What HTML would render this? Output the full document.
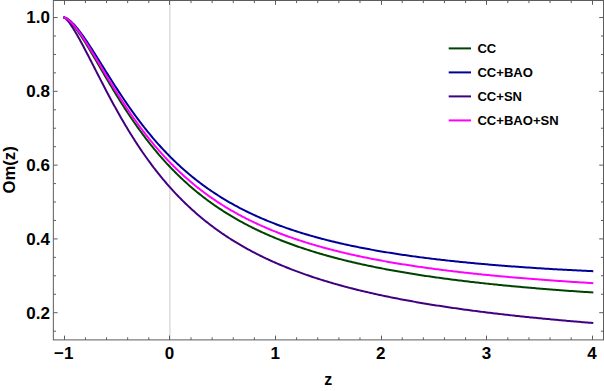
<!DOCTYPE html>
<html><head><meta charset="utf-8"><title>Om(z)</title><style>
html,body{margin:0;padding:0;background:#fff;}
svg{display:block;font-family:"Liberation Sans",sans-serif;font-weight:bold;}
.c path{fill:none;stroke-width:2;stroke-linejoin:round;}
.t text{fill:#000;}
</style></head><body>
<svg width="604" height="391" viewBox="0 0 604 391">
<rect width="604" height="391" fill="#fff"/>
<path d="M169.9,0.5V339.9" stroke="#c2c2c2" stroke-width="0.85" fill="none"/>
<g class="c">
<path d="M64.30,17.55 L64.51,17.58 L64.81,17.67 L65.16,17.81 L65.55,18.00 L65.97,18.24 L66.42,18.52 L66.88,18.85 L67.37,19.21 L67.88,19.63 L68.41,20.08 L68.95,20.57 L69.51,21.10 L70.08,21.67 L70.66,22.28 L71.26,22.93 L71.87,23.61 L72.49,24.33 L73.12,25.09 L73.77,25.87 L74.42,26.70 L75.08,27.55 L75.75,28.44 L76.43,29.36 L77.12,30.31 L77.82,31.29 L78.53,32.30 L79.25,33.34 L79.97,34.41 L80.70,35.50 L81.44,36.62 L82.19,37.76 L82.94,38.93 L83.70,40.12 L84.47,41.34 L85.24,42.58 L86.02,43.83 L86.81,45.11 L87.61,46.41 L88.41,47.73 L89.21,49.07 L90.03,50.42 L90.84,51.79 L91.67,53.18 L92.50,54.58 L93.34,56.00 L94.18,57.43 L95.02,58.87 L95.88,60.32 L96.73,61.79 L97.60,63.27 L98.47,64.75 L99.34,66.25 L100.22,67.76 L101.10,69.27 L101.99,70.79 L102.88,72.32 L103.78,73.85 L104.68,75.39 L105.59,76.94 L106.50,78.49 L107.42,80.04 L108.34,81.60 L109.27,83.16 L110.20,84.72 L111.13,86.28 L112.07,87.85 L113.01,89.41 L113.96,90.98 L114.91,92.54 L115.87,94.11 L116.83,95.67 L117.79,97.23 L118.76,98.79 L119.73,100.35 L120.71,101.91 L121.69,103.46 L122.67,105.01 L123.66,106.55 L124.65,108.09 L125.64,109.63 L126.64,111.16 L127.65,112.68 L128.65,114.21 L129.66,115.72 L130.67,117.23 L131.69,118.73 L132.71,120.23 L133.74,121.72 L134.76,123.20 L135.79,124.68 L136.83,126.15 L137.87,127.61 L138.91,129.06 L139.95,130.51 L141.00,131.95 L142.05,133.38 L143.11,134.80 L144.16,136.21 L145.22,137.62 L146.29,139.02 L147.36,140.40 L148.43,141.78 L149.50,143.15 L150.58,144.51 L151.66,145.87 L152.74,147.21 L153.83,148.54 L154.92,149.87 L156.01,151.18 L157.10,152.49 L158.20,153.78 L159.30,155.07 L160.41,156.35 L161.51,157.61 L162.62,158.87 L163.74,160.12 L164.85,161.36 L165.97,162.59 L167.09,163.81 L168.22,165.02 L169.35,166.22 L170.48,167.41 L171.61,168.59 L172.74,169.76 L173.88,170.92 L175.02,172.07 L176.17,173.22 L177.31,174.35 L178.46,175.47 L179.61,176.59 L180.77,177.69 L181.93,178.79 L183.09,179.87 L184.25,180.95 L185.41,182.02 L186.58,183.07 L187.75,184.12 L188.92,185.16 L190.10,186.19 L191.28,187.21 L192.46,188.22 L193.64,189.23 L194.82,190.22 L196.01,191.21 L197.20,192.18 L198.40,193.15 L199.59,194.11 L200.79,195.06 L201.99,196.00 L203.19,196.94 L204.40,197.86 L205.60,198.78 L206.81,199.68 L208.03,200.58 L209.24,201.48 L210.46,202.36 L211.68,203.23 L212.90,204.10 L214.12,204.96 L215.35,205.81 L216.58,206.65 L217.81,207.49 L219.04,208.32 L220.27,209.14 L221.51,209.95 L222.75,210.75 L223.99,211.55 L225.24,212.34 L226.48,213.12 L227.73,213.90 L228.98,214.67 L230.24,215.43 L231.49,216.18 L232.75,216.93 L234.01,217.67 L235.27,218.40 L236.53,219.13 L237.80,219.85 L239.07,220.56 L240.34,221.27 L241.61,221.97 L242.89,222.66 L244.16,223.35 L245.44,224.03 L246.72,224.70 L248.01,225.37 L249.29,226.03 L250.58,226.69 L251.87,227.34 L253.16,227.98 L254.45,228.62 L255.75,229.25 L257.04,229.88 L258.34,230.50 L259.64,231.11 L260.95,231.72 L262.25,232.32 L263.56,232.92 L264.87,233.51 L266.18,234.10 L267.49,234.68 L268.81,235.26 L270.13,235.83 L271.45,236.39 L272.77,236.95 L274.09,237.51 L275.41,238.06 L276.74,238.60 L278.07,239.14 L279.40,239.68 L280.73,240.21 L282.07,240.73 L283.40,241.25 L284.74,241.77 L286.08,242.28 L287.42,242.79 L288.77,243.29 L290.11,243.79 L291.46,244.28 L292.81,244.77 L294.16,245.25 L295.51,245.73 L296.87,246.21 L298.23,246.68 L299.58,247.15 L300.94,247.61 L302.31,248.07 L303.67,248.52 L305.04,248.97 L306.40,249.42 L307.77,249.86 L309.14,250.30 L310.52,250.74 L311.89,251.17 L313.27,251.60 L314.65,252.02 L316.03,252.44 L317.41,252.86 L318.79,253.27 L320.18,253.68 L321.56,254.08 L322.95,254.48 L324.34,254.88 L325.73,255.28 L327.13,255.67 L328.52,256.06 L329.92,256.44 L331.32,256.82 L332.72,257.20 L334.12,257.58 L335.53,257.95 L336.93,258.32 L338.34,258.68 L339.75,259.05 L341.16,259.40 L342.57,259.76 L343.98,260.11 L345.40,260.46 L346.82,260.81 L348.24,261.16 L349.66,261.50 L351.08,261.84 L352.50,262.17 L353.93,262.50 L355.36,262.83 L356.78,263.16 L358.21,263.49 L359.65,263.81 L361.08,264.13 L362.51,264.44 L363.95,264.76 L365.39,265.07 L366.83,265.38 L368.27,265.69 L369.71,265.99 L371.16,266.29 L372.60,266.59 L374.05,266.89 L375.50,267.18 L376.95,267.47 L378.40,267.76 L379.86,268.05 L381.31,268.33 L382.77,268.61 L384.23,268.89 L385.69,269.17 L387.15,269.45 L388.61,269.72 L390.08,269.99 L391.55,270.26 L393.01,270.53 L394.48,270.79 L395.95,271.05 L397.42,271.31 L398.90,271.57 L400.37,271.83 L401.85,272.08 L403.33,272.34 L404.81,272.59 L406.29,272.84 L407.77,273.08 L409.26,273.33 L410.74,273.57 L412.23,273.81 L413.72,274.05 L415.21,274.29 L416.70,274.52 L418.19,274.75 L419.69,274.99 L421.18,275.22 L422.68,275.44 L424.18,275.67 L425.68,275.89 L427.18,276.12 L428.68,276.34 L430.19,276.56 L431.69,276.77 L433.20,276.99 L434.71,277.21 L436.22,277.42 L437.73,277.63 L439.25,277.84 L440.76,278.05 L442.28,278.25 L443.79,278.46 L445.31,278.66 L446.83,278.86 L448.35,279.06 L449.88,279.26 L451.40,279.46 L452.93,279.66 L454.45,279.85 L455.98,280.04 L457.51,280.24 L459.04,280.43 L460.58,280.61 L462.11,280.80 L463.64,280.99 L465.18,281.17 L466.72,281.36 L468.26,281.54 L469.80,281.72 L471.34,281.90 L472.88,282.08 L474.43,282.25 L475.98,282.43 L477.52,282.60 L479.07,282.78 L480.62,282.95 L482.17,283.12 L483.73,283.29 L485.28,283.46 L486.84,283.62 L488.39,283.79 L489.95,283.95 L491.51,284.12 L493.07,284.28 L494.63,284.44 L496.20,284.60 L497.76,284.76 L499.33,284.92 L500.89,285.07 L502.46,285.23 L504.03,285.38 L505.60,285.54 L507.17,285.69 L508.75,285.84 L510.32,285.99 L511.90,286.14 L513.48,286.29 L515.06,286.43 L516.64,286.58 L518.22,286.73 L519.80,286.87 L521.38,287.01 L522.97,287.15 L524.56,287.30 L526.14,287.44 L527.73,287.57 L529.32,287.71 L530.91,287.85 L532.51,287.99 L534.10,288.12 L535.70,288.26 L537.29,288.39 L538.89,288.52 L540.49,288.65 L542.09,288.79 L543.69,288.92 L545.29,289.05 L546.90,289.17 L548.50,289.30 L550.11,289.43 L551.72,289.55 L553.33,289.68 L554.94,289.80 L556.55,289.93 L558.16,290.05 L559.77,290.17 L561.39,290.29 L563.00,290.41 L564.62,290.53 L566.24,290.65 L567.86,290.77 L569.48,290.88 L571.10,291.00 L572.73,291.11 L574.35,291.23 L575.98,291.34 L577.60,291.46 L579.23,291.57 L580.86,291.68 L582.49,291.79 L584.12,291.90 L585.76,292.01 L587.39,292.12 L589.03,292.23 L590.66,292.34 L592.30,292.44" stroke="#004200" stroke-linecap="square"/>
<path d="M64.30,17.55 L64.51,17.57 L64.81,17.62 L65.16,17.72 L65.55,17.85 L65.97,18.02 L66.42,18.23 L66.88,18.48 L67.37,18.76 L67.88,19.08 L68.41,19.44 L68.95,19.83 L69.51,20.26 L70.08,20.73 L70.66,21.24 L71.26,21.77 L71.87,22.35 L72.49,22.96 L73.12,23.60 L73.77,24.27 L74.42,24.98 L75.08,25.72 L75.75,26.49 L76.43,27.30 L77.12,28.13 L77.82,28.99 L78.53,29.88 L79.25,30.80 L79.97,31.75 L80.70,32.73 L81.44,33.73 L82.19,34.76 L82.94,35.81 L83.70,36.88 L84.47,37.98 L85.24,39.11 L86.02,40.25 L86.81,41.42 L87.61,42.60 L88.41,43.81 L89.21,45.04 L90.03,46.28 L90.84,47.54 L91.67,48.82 L92.50,50.11 L93.34,51.42 L94.18,52.74 L95.02,54.08 L95.88,55.43 L96.73,56.80 L97.60,58.17 L98.47,59.56 L99.34,60.95 L100.22,62.36 L101.10,63.78 L101.99,65.20 L102.88,66.63 L103.78,68.07 L104.68,69.52 L105.59,70.97 L106.50,72.43 L107.42,73.89 L108.34,75.35 L109.27,76.82 L110.20,78.30 L111.13,79.77 L112.07,81.25 L113.01,82.73 L113.96,84.21 L114.91,85.69 L115.87,87.17 L116.83,88.65 L117.79,90.13 L118.76,91.61 L119.73,93.09 L120.71,94.57 L121.69,96.04 L122.67,97.51 L123.66,98.98 L124.65,100.44 L125.64,101.91 L126.64,103.36 L127.65,104.82 L128.65,106.26 L129.66,107.71 L130.67,109.15 L131.69,110.58 L132.71,112.00 L133.74,113.43 L134.76,114.84 L135.79,116.25 L136.83,117.65 L137.87,119.05 L138.91,120.43 L139.95,121.81 L141.00,123.19 L142.05,124.55 L143.11,125.91 L144.16,127.26 L145.22,128.61 L146.29,129.94 L147.36,131.27 L148.43,132.58 L149.50,133.89 L150.58,135.19 L151.66,136.49 L152.74,137.77 L153.83,139.05 L154.92,140.31 L156.01,141.57 L157.10,142.82 L158.20,144.06 L159.30,145.29 L160.41,146.51 L161.51,147.72 L162.62,148.92 L163.74,150.11 L164.85,151.30 L165.97,152.47 L167.09,153.64 L168.22,154.80 L169.35,155.94 L170.48,157.08 L171.61,158.21 L172.74,159.33 L173.88,160.44 L175.02,161.54 L176.17,162.63 L177.31,163.71 L178.46,164.78 L179.61,165.85 L180.77,166.90 L181.93,167.95 L183.09,168.98 L184.25,170.01 L185.41,171.03 L186.58,172.04 L187.75,173.04 L188.92,174.03 L190.10,175.01 L191.28,175.98 L192.46,176.95 L193.64,177.90 L194.82,178.85 L196.01,179.79 L197.20,180.71 L198.40,181.64 L199.59,182.55 L200.79,183.45 L201.99,184.35 L203.19,185.23 L204.40,186.11 L205.60,186.98 L206.81,187.85 L208.03,188.70 L209.24,189.55 L210.46,190.38 L211.68,191.21 L212.90,192.04 L214.12,192.85 L215.35,193.66 L216.58,194.46 L217.81,195.25 L219.04,196.03 L220.27,196.81 L221.51,197.58 L222.75,198.34 L223.99,199.09 L225.24,199.84 L226.48,200.58 L227.73,201.31 L228.98,202.04 L230.24,202.76 L231.49,203.47 L232.75,204.17 L234.01,204.87 L235.27,205.56 L236.53,206.24 L237.80,206.92 L239.07,207.59 L240.34,208.26 L241.61,208.91 L242.89,209.57 L244.16,210.21 L245.44,210.85 L246.72,211.48 L248.01,212.11 L249.29,212.73 L250.58,213.35 L251.87,213.95 L253.16,214.56 L254.45,215.15 L255.75,215.74 L257.04,216.33 L258.34,216.91 L259.64,217.48 L260.95,218.05 L262.25,218.61 L263.56,219.17 L264.87,219.72 L266.18,220.27 L267.49,220.81 L268.81,221.35 L270.13,221.88 L271.45,222.40 L272.77,222.92 L274.09,223.44 L275.41,223.95 L276.74,224.45 L278.07,224.95 L279.40,225.45 L280.73,225.94 L282.07,226.43 L283.40,226.91 L284.74,227.39 L286.08,227.86 L287.42,228.33 L288.77,228.79 L290.11,229.25 L291.46,229.70 L292.81,230.15 L294.16,230.60 L295.51,231.04 L296.87,231.48 L298.23,231.91 L299.58,232.34 L300.94,232.76 L302.31,233.18 L303.67,233.60 L305.04,234.01 L306.40,234.42 L307.77,234.83 L309.14,235.23 L310.52,235.63 L311.89,236.02 L313.27,236.41 L314.65,236.80 L316.03,237.18 L317.41,237.56 L318.79,237.93 L320.18,238.30 L321.56,238.67 L322.95,239.04 L324.34,239.40 L325.73,239.76 L327.13,240.11 L328.52,240.46 L329.92,240.81 L331.32,241.16 L332.72,241.50 L334.12,241.83 L335.53,242.17 L336.93,242.50 L338.34,242.83 L339.75,243.16 L341.16,243.48 L342.57,243.80 L343.98,244.12 L345.40,244.43 L346.82,244.74 L348.24,245.05 L349.66,245.36 L351.08,245.66 L352.50,245.96 L353.93,246.25 L355.36,246.55 L356.78,246.84 L358.21,247.13 L359.65,247.42 L361.08,247.70 L362.51,247.98 L363.95,248.26 L365.39,248.53 L366.83,248.81 L368.27,249.08 L369.71,249.35 L371.16,249.61 L372.60,249.88 L374.05,250.14 L375.50,250.40 L376.95,250.65 L378.40,250.91 L379.86,251.16 L381.31,251.41 L382.77,251.66 L384.23,251.90 L385.69,252.14 L387.15,252.38 L388.61,252.62 L390.08,252.86 L391.55,253.09 L393.01,253.33 L394.48,253.56 L395.95,253.78 L397.42,254.01 L398.90,254.23 L400.37,254.46 L401.85,254.68 L403.33,254.89 L404.81,255.11 L406.29,255.32 L407.77,255.54 L409.26,255.75 L410.74,255.96 L412.23,256.16 L413.72,256.37 L415.21,256.57 L416.70,256.77 L418.19,256.97 L419.69,257.17 L421.18,257.37 L422.68,257.56 L424.18,257.75 L425.68,257.94 L427.18,258.13 L428.68,258.32 L430.19,258.51 L431.69,258.69 L433.20,258.87 L434.71,259.06 L436.22,259.24 L437.73,259.41 L439.25,259.59 L440.76,259.76 L442.28,259.94 L443.79,260.11 L445.31,260.28 L446.83,260.45 L448.35,260.62 L449.88,260.78 L451.40,260.95 L452.93,261.11 L454.45,261.27 L455.98,261.43 L457.51,261.59 L459.04,261.75 L460.58,261.91 L462.11,262.06 L463.64,262.22 L465.18,262.37 L466.72,262.52 L468.26,262.67 L469.80,262.82 L471.34,262.96 L472.88,263.11 L474.43,263.25 L475.98,263.40 L477.52,263.54 L479.07,263.68 L480.62,263.82 L482.17,263.96 L483.73,264.10 L485.28,264.23 L486.84,264.37 L488.39,264.50 L489.95,264.64 L491.51,264.77 L493.07,264.90 L494.63,265.03 L496.20,265.16 L497.76,265.28 L499.33,265.41 L500.89,265.53 L502.46,265.66 L504.03,265.78 L505.60,265.90 L507.17,266.03 L508.75,266.15 L510.32,266.26 L511.90,266.38 L513.48,266.50 L515.06,266.62 L516.64,266.73 L518.22,266.84 L519.80,266.96 L521.38,267.07 L522.97,267.18 L524.56,267.29 L526.14,267.40 L527.73,267.51 L529.32,267.62 L530.91,267.72 L532.51,267.83 L534.10,267.93 L535.70,268.04 L537.29,268.14 L538.89,268.24 L540.49,268.35 L542.09,268.45 L543.69,268.55 L545.29,268.64 L546.90,268.74 L548.50,268.84 L550.11,268.94 L551.72,269.03 L553.33,269.13 L554.94,269.22 L556.55,269.31 L558.16,269.41 L559.77,269.50 L561.39,269.59 L563.00,269.68 L564.62,269.77 L566.24,269.86 L567.86,269.95 L569.48,270.03 L571.10,270.12 L572.73,270.21 L574.35,270.29 L575.98,270.37 L577.60,270.46 L579.23,270.54 L580.86,270.62 L582.49,270.71 L584.12,270.79 L585.76,270.87 L587.39,270.95 L589.03,271.03 L590.66,271.10 L592.30,271.18" stroke="#000099" stroke-linecap="square"/>
<path d="M64.30,17.55 L64.51,17.63 L64.81,17.81 L65.16,18.06 L65.55,18.38 L65.97,18.77 L66.42,19.21 L66.88,19.72 L67.37,20.27 L67.88,20.87 L68.41,21.53 L68.95,22.23 L69.51,22.97 L70.08,23.76 L70.66,24.59 L71.26,25.47 L71.87,26.38 L72.49,27.33 L73.12,28.33 L73.77,29.35 L74.42,30.42 L75.08,31.51 L75.75,32.64 L76.43,33.81 L77.12,35.00 L77.82,36.23 L78.53,37.48 L79.25,38.76 L79.97,40.07 L80.70,41.41 L81.44,42.77 L82.19,44.16 L82.94,45.57 L83.70,47.01 L84.47,48.46 L85.24,49.94 L86.02,51.43 L86.81,52.95 L87.61,54.48 L88.41,56.04 L89.21,57.60 L90.03,59.19 L90.84,60.79 L91.67,62.40 L92.50,64.03 L93.34,65.66 L94.18,67.31 L95.02,68.98 L95.88,70.65 L96.73,72.33 L97.60,74.02 L98.47,75.71 L99.34,77.42 L100.22,79.13 L101.10,80.85 L101.99,82.57 L102.88,84.29 L103.78,86.02 L104.68,87.76 L105.59,89.49 L106.50,91.23 L107.42,92.97 L108.34,94.71 L109.27,96.46 L110.20,98.20 L111.13,99.94 L112.07,101.68 L113.01,103.41 L113.96,105.15 L114.91,106.88 L115.87,108.61 L116.83,110.34 L117.79,112.06 L118.76,113.78 L119.73,115.50 L120.71,117.21 L121.69,118.91 L122.67,120.61 L123.66,122.30 L124.65,123.99 L125.64,125.66 L126.64,127.34 L127.65,129.00 L128.65,130.66 L129.66,132.31 L130.67,133.95 L131.69,135.59 L132.71,137.21 L133.74,138.83 L134.76,140.44 L135.79,142.04 L136.83,143.63 L137.87,145.21 L138.91,146.79 L139.95,148.35 L141.00,149.90 L142.05,151.44 L143.11,152.98 L144.16,154.50 L145.22,156.01 L146.29,157.52 L147.36,159.01 L148.43,160.49 L149.50,161.96 L150.58,163.43 L151.66,164.88 L152.74,166.32 L153.83,167.75 L154.92,169.16 L156.01,170.57 L157.10,171.97 L158.20,173.36 L159.30,174.73 L160.41,176.10 L161.51,177.45 L162.62,178.79 L163.74,180.13 L164.85,181.45 L165.97,182.76 L167.09,184.06 L168.22,185.35 L169.35,186.62 L170.48,187.89 L171.61,189.15 L172.74,190.40 L173.88,191.63 L175.02,192.86 L176.17,194.07 L177.31,195.28 L178.46,196.47 L179.61,197.65 L180.77,198.82 L181.93,199.99 L183.09,201.14 L184.25,202.28 L185.41,203.41 L186.58,204.53 L187.75,205.65 L188.92,206.75 L190.10,207.84 L191.28,208.92 L192.46,209.99 L193.64,211.06 L194.82,212.11 L196.01,213.15 L197.20,214.19 L198.40,215.21 L199.59,216.23 L200.79,217.23 L201.99,218.23 L203.19,219.22 L204.40,220.19 L205.60,221.16 L206.81,222.12 L208.03,223.07 L209.24,224.02 L210.46,224.95 L211.68,225.88 L212.90,226.79 L214.12,227.70 L215.35,228.60 L216.58,229.49 L217.81,230.38 L219.04,231.25 L220.27,232.12 L221.51,232.98 L222.75,233.83 L223.99,234.67 L225.24,235.51 L226.48,236.33 L227.73,237.15 L228.98,237.97 L230.24,238.77 L231.49,239.57 L232.75,240.36 L234.01,241.14 L235.27,241.92 L236.53,242.68 L237.80,243.44 L239.07,244.20 L240.34,244.95 L241.61,245.69 L242.89,246.42 L244.16,247.15 L245.44,247.87 L246.72,248.58 L248.01,249.29 L249.29,249.99 L250.58,250.68 L251.87,251.37 L253.16,252.05 L254.45,252.73 L255.75,253.39 L257.04,254.06 L258.34,254.71 L259.64,255.37 L260.95,256.01 L262.25,256.65 L263.56,257.28 L264.87,257.91 L266.18,258.53 L267.49,259.15 L268.81,259.76 L270.13,260.37 L271.45,260.97 L272.77,261.56 L274.09,262.15 L275.41,262.74 L276.74,263.31 L278.07,263.89 L279.40,264.46 L280.73,265.02 L282.07,265.58 L283.40,266.13 L284.74,266.68 L286.08,267.23 L287.42,267.77 L288.77,268.30 L290.11,268.83 L291.46,269.36 L292.81,269.88 L294.16,270.40 L295.51,270.91 L296.87,271.42 L298.23,271.92 L299.58,272.42 L300.94,272.91 L302.31,273.40 L303.67,273.89 L305.04,274.37 L306.40,274.85 L307.77,275.32 L309.14,275.79 L310.52,276.26 L311.89,276.72 L313.27,277.18 L314.65,277.63 L316.03,278.08 L317.41,278.53 L318.79,278.97 L320.18,279.41 L321.56,279.85 L322.95,280.28 L324.34,280.71 L325.73,281.13 L327.13,281.55 L328.52,281.97 L329.92,282.39 L331.32,282.80 L332.72,283.20 L334.12,283.61 L335.53,284.01 L336.93,284.41 L338.34,284.80 L339.75,285.19 L341.16,285.58 L342.57,285.97 L343.98,286.35 L345.40,286.73 L346.82,287.11 L348.24,287.48 L349.66,287.85 L351.08,288.22 L352.50,288.58 L353.93,288.94 L355.36,289.30 L356.78,289.66 L358.21,290.01 L359.65,290.36 L361.08,290.71 L362.51,291.05 L363.95,291.39 L365.39,291.73 L366.83,292.07 L368.27,292.40 L369.71,292.74 L371.16,293.07 L372.60,293.39 L374.05,293.72 L375.50,294.04 L376.95,294.36 L378.40,294.67 L379.86,294.99 L381.31,295.30 L382.77,295.61 L384.23,295.92 L385.69,296.22 L387.15,296.53 L388.61,296.83 L390.08,297.13 L391.55,297.42 L393.01,297.72 L394.48,298.01 L395.95,298.30 L397.42,298.59 L398.90,298.87 L400.37,299.15 L401.85,299.44 L403.33,299.72 L404.81,299.99 L406.29,300.27 L407.77,300.54 L409.26,300.81 L410.74,301.08 L412.23,301.35 L413.72,301.62 L415.21,301.88 L416.70,302.14 L418.19,302.40 L419.69,302.66 L421.18,302.92 L422.68,303.17 L424.18,303.42 L425.68,303.68 L427.18,303.93 L428.68,304.17 L430.19,304.42 L431.69,304.66 L433.20,304.91 L434.71,305.15 L436.22,305.39 L437.73,305.62 L439.25,305.86 L440.76,306.09 L442.28,306.33 L443.79,306.56 L445.31,306.79 L446.83,307.02 L448.35,307.24 L449.88,307.47 L451.40,307.69 L452.93,307.91 L454.45,308.13 L455.98,308.35 L457.51,308.57 L459.04,308.79 L460.58,309.00 L462.11,309.22 L463.64,309.43 L465.18,309.64 L466.72,309.85 L468.26,310.06 L469.80,310.26 L471.34,310.47 L472.88,310.67 L474.43,310.87 L475.98,311.08 L477.52,311.28 L479.07,311.47 L480.62,311.67 L482.17,311.87 L483.73,312.06 L485.28,312.26 L486.84,312.45 L488.39,312.64 L489.95,312.83 L491.51,313.02 L493.07,313.21 L494.63,313.40 L496.20,313.58 L497.76,313.77 L499.33,313.95 L500.89,314.13 L502.46,314.31 L504.03,314.49 L505.60,314.67 L507.17,314.85 L508.75,315.02 L510.32,315.20 L511.90,315.37 L513.48,315.55 L515.06,315.72 L516.64,315.89 L518.22,316.06 L519.80,316.23 L521.38,316.40 L522.97,316.57 L524.56,316.73 L526.14,316.90 L527.73,317.06 L529.32,317.23 L530.91,317.39 L532.51,317.55 L534.10,317.71 L535.70,317.87 L537.29,318.03 L538.89,318.19 L540.49,318.34 L542.09,318.50 L543.69,318.65 L545.29,318.81 L546.90,318.96 L548.50,319.11 L550.11,319.27 L551.72,319.42 L553.33,319.57 L554.94,319.72 L556.55,319.86 L558.16,320.01 L559.77,320.16 L561.39,320.30 L563.00,320.45 L564.62,320.59 L566.24,320.74 L567.86,320.88 L569.48,321.02 L571.10,321.16 L572.73,321.30 L574.35,321.44 L575.98,321.58 L577.60,321.72 L579.23,321.85 L580.86,321.99 L582.49,322.13 L584.12,322.26 L585.76,322.39 L587.39,322.53 L589.03,322.66 L590.66,322.79 L592.30,322.92" stroke="#400080" stroke-linecap="square"/>
<path d="M64.30,17.55 L64.51,17.58 L64.81,17.65 L65.16,17.76 L65.55,17.92 L65.97,18.13 L66.42,18.37 L66.88,18.66 L67.37,18.99 L67.88,19.36 L68.41,19.77 L68.95,20.21 L69.51,20.70 L70.08,21.22 L70.66,21.78 L71.26,22.38 L71.87,23.02 L72.49,23.69 L73.12,24.39 L73.77,25.13 L74.42,25.91 L75.08,26.71 L75.75,27.55 L76.43,28.42 L77.12,29.32 L77.82,30.25 L78.53,31.21 L79.25,32.20 L79.97,33.22 L80.70,34.26 L81.44,35.34 L82.19,36.43 L82.94,37.55 L83.70,38.70 L84.47,39.87 L85.24,41.06 L86.02,42.27 L86.81,43.51 L87.61,44.76 L88.41,46.03 L89.21,47.33 L90.03,48.64 L90.84,49.96 L91.67,51.31 L92.50,52.67 L93.34,54.04 L94.18,55.43 L95.02,56.83 L95.88,58.24 L96.73,59.67 L97.60,61.11 L98.47,62.55 L99.34,64.01 L100.22,65.48 L101.10,66.95 L101.99,68.44 L102.88,69.93 L103.78,71.42 L104.68,72.93 L105.59,74.43 L106.50,75.95 L107.42,77.46 L108.34,78.99 L109.27,80.51 L110.20,82.04 L111.13,83.56 L112.07,85.09 L113.01,86.62 L113.96,88.16 L114.91,89.69 L115.87,91.22 L116.83,92.75 L117.79,94.28 L118.76,95.80 L119.73,97.33 L120.71,98.85 L121.69,100.37 L122.67,101.89 L123.66,103.40 L124.65,104.91 L125.64,106.41 L126.64,107.91 L127.65,109.41 L128.65,110.90 L129.66,112.38 L130.67,113.86 L131.69,115.33 L132.71,116.80 L133.74,118.26 L134.76,119.71 L135.79,121.16 L136.83,122.60 L137.87,124.03 L138.91,125.45 L139.95,126.87 L141.00,128.28 L142.05,129.68 L143.11,131.07 L144.16,132.46 L145.22,133.84 L146.29,135.20 L147.36,136.56 L148.43,137.91 L149.50,139.26 L150.58,140.59 L151.66,141.91 L152.74,143.23 L153.83,144.53 L154.92,145.83 L156.01,147.12 L157.10,148.40 L158.20,149.66 L159.30,150.92 L160.41,152.17 L161.51,153.41 L162.62,154.64 L163.74,155.87 L164.85,157.08 L165.97,158.28 L167.09,159.47 L168.22,160.66 L169.35,161.83 L170.48,162.99 L171.61,164.15 L172.74,165.29 L173.88,166.43 L175.02,167.55 L176.17,168.67 L177.31,169.78 L178.46,170.88 L179.61,171.96 L180.77,173.04 L181.93,174.11 L183.09,175.17 L184.25,176.22 L185.41,177.26 L186.58,178.30 L187.75,179.32 L188.92,180.33 L190.10,181.34 L191.28,182.34 L192.46,183.32 L193.64,184.30 L194.82,185.27 L196.01,186.23 L197.20,187.18 L198.40,188.13 L199.59,189.06 L200.79,189.99 L201.99,190.90 L203.19,191.81 L204.40,192.71 L205.60,193.60 L206.81,194.49 L208.03,195.36 L209.24,196.23 L210.46,197.09 L211.68,197.94 L212.90,198.78 L214.12,199.62 L215.35,200.45 L216.58,201.27 L217.81,202.08 L219.04,202.88 L220.27,203.68 L221.51,204.47 L222.75,205.25 L223.99,206.02 L225.24,206.79 L226.48,207.55 L227.73,208.30 L228.98,209.05 L230.24,209.79 L231.49,210.52 L232.75,211.24 L234.01,211.96 L235.27,212.67 L236.53,213.38 L237.80,214.07 L239.07,214.76 L240.34,215.45 L241.61,216.13 L242.89,216.80 L244.16,217.46 L245.44,218.12 L246.72,218.77 L248.01,219.42 L249.29,220.06 L250.58,220.69 L251.87,221.32 L253.16,221.94 L254.45,222.56 L255.75,223.17 L257.04,223.77 L258.34,224.37 L259.64,224.96 L260.95,225.55 L262.25,226.13 L263.56,226.71 L264.87,227.28 L266.18,227.85 L267.49,228.41 L268.81,228.96 L270.13,229.51 L271.45,230.06 L272.77,230.60 L274.09,231.13 L275.41,231.66 L276.74,232.19 L278.07,232.71 L279.40,233.22 L280.73,233.73 L282.07,234.24 L283.40,234.74 L284.74,235.23 L286.08,235.72 L287.42,236.21 L288.77,236.69 L290.11,237.17 L291.46,237.65 L292.81,238.11 L294.16,238.58 L295.51,239.04 L296.87,239.50 L298.23,239.95 L299.58,240.40 L300.94,240.84 L302.31,241.28 L303.67,241.72 L305.04,242.15 L306.40,242.58 L307.77,243.00 L309.14,243.42 L310.52,243.84 L311.89,244.25 L313.27,244.66 L314.65,245.06 L316.03,245.47 L317.41,245.86 L318.79,246.26 L320.18,246.65 L321.56,247.04 L322.95,247.42 L324.34,247.80 L325.73,248.18 L327.13,248.55 L328.52,248.92 L329.92,249.29 L331.32,249.65 L332.72,250.02 L334.12,250.37 L335.53,250.73 L336.93,251.08 L338.34,251.43 L339.75,251.77 L341.16,252.11 L342.57,252.45 L343.98,252.79 L345.40,253.12 L346.82,253.45 L348.24,253.78 L349.66,254.11 L351.08,254.43 L352.50,254.75 L353.93,255.06 L355.36,255.38 L356.78,255.69 L358.21,256.00 L359.65,256.30 L361.08,256.61 L362.51,256.91 L363.95,257.20 L365.39,257.50 L366.83,257.79 L368.27,258.08 L369.71,258.37 L371.16,258.66 L372.60,258.94 L374.05,259.22 L375.50,259.50 L376.95,259.78 L378.40,260.05 L379.86,260.32 L381.31,260.59 L382.77,260.86 L384.23,261.12 L385.69,261.39 L387.15,261.65 L388.61,261.90 L390.08,262.16 L391.55,262.41 L393.01,262.67 L394.48,262.92 L395.95,263.16 L397.42,263.41 L398.90,263.65 L400.37,263.90 L401.85,264.14 L403.33,264.37 L404.81,264.61 L406.29,264.84 L407.77,265.08 L409.26,265.31 L410.74,265.53 L412.23,265.76 L413.72,265.99 L415.21,266.21 L416.70,266.43 L418.19,266.65 L419.69,266.87 L421.18,267.08 L422.68,267.30 L424.18,267.51 L425.68,267.72 L427.18,267.93 L428.68,268.14 L430.19,268.34 L431.69,268.55 L433.20,268.75 L434.71,268.95 L436.22,269.15 L437.73,269.35 L439.25,269.55 L440.76,269.74 L442.28,269.94 L443.79,270.13 L445.31,270.32 L446.83,270.51 L448.35,270.69 L449.88,270.88 L451.40,271.07 L452.93,271.25 L454.45,271.43 L455.98,271.61 L457.51,271.79 L459.04,271.97 L460.58,272.14 L462.11,272.32 L463.64,272.49 L465.18,272.67 L466.72,272.84 L468.26,273.01 L469.80,273.18 L471.34,273.34 L472.88,273.51 L474.43,273.67 L475.98,273.84 L477.52,274.00 L479.07,274.16 L480.62,274.32 L482.17,274.48 L483.73,274.64 L485.28,274.79 L486.84,274.95 L488.39,275.10 L489.95,275.26 L491.51,275.41 L493.07,275.56 L494.63,275.71 L496.20,275.86 L497.76,276.01 L499.33,276.15 L500.89,276.30 L502.46,276.44 L504.03,276.59 L505.60,276.73 L507.17,276.87 L508.75,277.01 L510.32,277.15 L511.90,277.29 L513.48,277.42 L515.06,277.56 L516.64,277.70 L518.22,277.83 L519.80,277.96 L521.38,278.10 L522.97,278.23 L524.56,278.36 L526.14,278.49 L527.73,278.62 L529.32,278.74 L530.91,278.87 L532.51,279.00 L534.10,279.12 L535.70,279.25 L537.29,279.37 L538.89,279.49 L540.49,279.61 L542.09,279.73 L543.69,279.85 L545.29,279.97 L546.90,280.09 L548.50,280.21 L550.11,280.33 L551.72,280.44 L553.33,280.56 L554.94,280.67 L556.55,280.79 L558.16,280.90 L559.77,281.01 L561.39,281.12 L563.00,281.23 L564.62,281.34 L566.24,281.45 L567.86,281.56 L569.48,281.67 L571.10,281.77 L572.73,281.88 L574.35,281.98 L575.98,282.09 L577.60,282.19 L579.23,282.30 L580.86,282.40 L582.49,282.50 L584.12,282.60 L585.76,282.70 L587.39,282.80 L589.03,282.90 L590.66,283.00 L592.30,283.10" stroke="#ff00ff" stroke-linecap="square"/>
<path d="M448.7,48.4H471" stroke="#004200"/>
<path d="M448.7,72.4H471" stroke="#000099"/>
<path d="M448.7,96.4H471" stroke="#400080"/>
<path d="M448.7,120.4H471" stroke="#ff00ff"/>
</g>
<g stroke="#5c5c5c" stroke-width="1" fill="none">
<rect x="53.35" y="0.5" width="550.15" height="339.4"/>
<path d="M64.50,339.9v-4.3M64.50,0.5v4.3M85.42,339.9v-2.6M85.42,0.5v2.6M106.54,339.9v-2.6M106.54,0.5v2.6M127.66,339.9v-2.6M127.66,0.5v2.6M148.78,339.9v-2.6M148.78,0.5v2.6M169.50,339.9v-4.3M169.50,0.5v4.3M191.02,339.9v-2.6M191.02,0.5v2.6M212.14,339.9v-2.6M212.14,0.5v2.6M233.26,339.9v-2.6M233.26,0.5v2.6M254.38,339.9v-2.6M254.38,0.5v2.6M275.50,339.9v-4.3M275.50,0.5v4.3M296.62,339.9v-2.6M296.62,0.5v2.6M317.74,339.9v-2.6M317.74,0.5v2.6M338.86,339.9v-2.6M338.86,0.5v2.6M359.98,339.9v-2.6M359.98,0.5v2.6M381.50,339.9v-4.3M381.50,0.5v4.3M402.22,339.9v-2.6M402.22,0.5v2.6M423.34,339.9v-2.6M423.34,0.5v2.6M444.46,339.9v-2.6M444.46,0.5v2.6M465.58,339.9v-2.6M465.58,0.5v2.6M486.50,339.9v-4.3M486.50,0.5v4.3M507.82,339.9v-2.6M507.82,0.5v2.6M528.94,339.9v-2.6M528.94,0.5v2.6M550.06,339.9v-2.6M550.06,0.5v2.6M571.18,339.9v-2.6M571.18,0.5v2.6M592.50,339.9v-4.3M592.50,0.5v4.3M53.35,331.16h2.6M603.5,331.16h-2.6M53.35,312.71h4.3M603.5,312.71h-4.3M53.35,294.26h2.6M603.5,294.26h-2.6M53.35,275.81h2.6M603.5,275.81h-2.6M53.35,257.37h2.6M603.5,257.37h-2.6M53.35,238.92h4.3M603.5,238.92h-4.3M53.35,220.47h2.6M603.5,220.47h-2.6M53.35,202.03h2.6M603.5,202.03h-2.6M53.35,183.58h2.6M603.5,183.58h-2.6M53.35,165.13h4.3M603.5,165.13h-4.3M53.35,146.68h2.6M603.5,146.68h-2.6M53.35,128.23h2.6M603.5,128.23h-2.6M53.35,109.79h2.6M603.5,109.79h-2.6M53.35,91.34h4.3M603.5,91.34h-4.3M53.35,72.89h2.6M603.5,72.89h-2.6M53.35,54.44h2.6M603.5,54.44h-2.6M53.35,36.00h2.6M603.5,36.00h-2.6M53.35,17.55h4.3M603.5,17.55h-4.3"/>
</g>
<g class="t">
<text x="63.7" y="358.8" font-size="17.0px" text-anchor="middle">−1</text><text x="169.6" y="358.8" font-size="17.0px" text-anchor="middle">0</text><text x="275.2" y="358.8" font-size="17.0px" text-anchor="middle">1</text><text x="380.8" y="358.8" font-size="17.0px" text-anchor="middle">2</text><text x="486.4" y="358.8" font-size="17.0px" text-anchor="middle">3</text><text x="592.0" y="358.8" font-size="17.0px" text-anchor="middle">4</text><text x="49.9" y="318.5" font-size="17.0px" text-anchor="end">0.2</text><text x="49.9" y="244.7" font-size="17.0px" text-anchor="end">0.4</text><text x="49.9" y="170.9" font-size="17.0px" text-anchor="end">0.6</text><text x="49.9" y="97.1" font-size="17.0px" text-anchor="end">0.8</text><text x="49.9" y="23.4" font-size="17.0px" text-anchor="end">1.0</text><text x="328.3" y="385.3" font-size="15.9px" text-anchor="middle">z</text><text x="477.4" y="52.6" font-size="13.07px" text-anchor="start">CC</text><text x="477.4" y="76.6" font-size="13.07px" text-anchor="start">CC+BAO</text><text x="477.4" y="100.6" font-size="13.07px" text-anchor="start">CC+SN</text><text x="477.4" y="124.6" font-size="13.07px" text-anchor="start">CC+BAO+SN</text>
<text transform="translate(15.25,193.53) rotate(-90)" font-size="16.7px">Om(z)</text>
</g>
</svg>
</body></html>
